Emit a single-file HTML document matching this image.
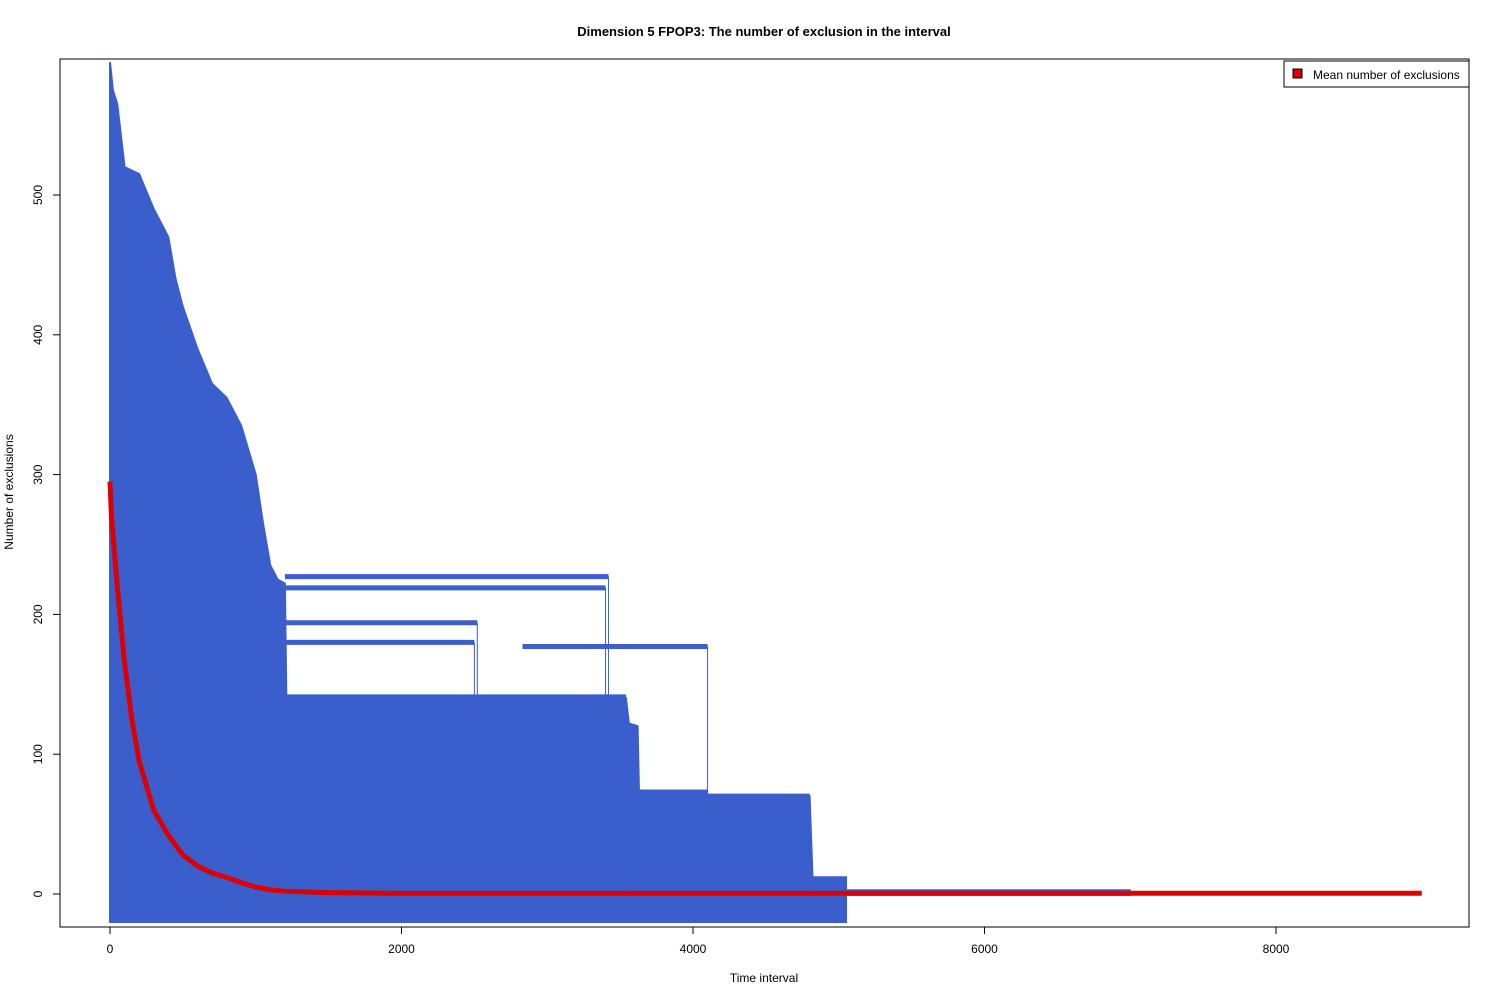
<!DOCTYPE html>
<html><head><meta charset="utf-8"><style>
body{margin:0;background:#fff}
svg{font-family:"Liberation Sans",Arial,sans-serif}
</style></head><body>
<svg id="c" width="1500" height="1000">
<rect x="0" y="0" width="1500" height="1000" fill="#fff"/>
<text x="764" y="36" text-anchor="middle" font-size="13" font-weight="bold">Dimension 5 FPOP3: The number of exclusion in the interval</text>
<g id="plot"></g>
<rect x="60" y="59" width="1409" height="868" fill="none" stroke="#000"/>
<g id="axes"></g>
<text x="764" y="982" text-anchor="middle" font-size="12">Time interval</text>
<text transform="translate(13,492) rotate(-90)" text-anchor="middle" font-size="12">Number of exclusions</text>
<g>
<rect x="1284" y="61" width="185" height="26" fill="#fff" stroke="#000"/>
<rect x="1293" y="69" width="9" height="9" fill="#dd0000" stroke="#000"/>
<text x="1313" y="79" font-size="12">Mean number of exclusions</text>
</g>
</svg>
<script>
const xTicks=[0,2000,4000,6000,8000];
const yTicks=[0,100,200,300,400,500];
const envX=[0,20,50,100,200,300,400,450,500,600,700,800,900,1000,1050,1100,1150,1200,1210,3540,3560,3620,3630,4800,4820,5050];
const envHi=[595,575,565,520,515,490,470,440,420,390,365,355,335,300,265,235,225,222,140,140,122,120,70,70,12,12];
const envLo=-20;
const tailX=[5050,7000];
const tailHi=[3,3];
const tailLo=[-1,-1];
const segStart=[1200,1200,1200,1200,2830,1200,1300,3600,3600,3600,1200,1200];
const segEnd=[3420,3400,2520,2500,4100,3540,3540,4800,4100,4800,3540,3540];
const segVal=[227,219,194,180,177,141,130,70,73,57,110,60];
const meanX=[0,10,50,100,150,200,300,400,500,600,700,800,900,1000,1100,1200,1500,2000,9000];
const meanY=[295,270,220,165,125,95,60,42,28,20,15,12,8,5,3,2,1,0.5,0.5];
const NS='http://www.w3.org/2000/svg';
const X=v=>110+v*1166/8000, Y=v=>894-v*699/500;
const plot=document.getElementById('plot'), axes=document.getElementById('axes');
function mk(t,a,p){const e=document.createElementNS(NS,t);for(const k in a)e.setAttribute(k,a[k]);(p||plot).appendChild(e);return e;}
let pts=envX.map((x,i)=>X(x)+','+Y(envHi[i]));
pts.push(X(envX[envX.length-1])+','+Y(envLo),X(0)+','+Y(envLo));
const poly=mk('polygon',{points:pts.join(' '),fill:'#3a5fcd',stroke:'#3a5fcd','stroke-width':2});


const tp=tailX.map((x,i)=>X(x)+','+Y(tailHi[i])).concat(tailX.slice().reverse().map((x,i)=>X(x)+','+Y(tailLo[tailLo.length-1-i])));
const tail=mk('polygon',{points:tp.join(' '),fill:'#3a5fcd',stroke:'#3a5fcd','stroke-width':1});


segStart.forEach((s,i)=>{
  const l=mk('line',{x1:X(s),x2:X(segEnd[i]),y1:Y(segVal[i]),y2:Y(segVal[i]),stroke:'#3a5fcd','stroke-width':5});
  
  
  const v=mk('line',{x1:X(segEnd[i]),x2:X(segEnd[i]),y1:Y(segVal[i]),y2:Y(0),stroke:'#3a5fcd','stroke-width':1});
  
  
});
const mp=mk('polyline',{points:meanX.map((x,i)=>X(x)+','+Y(meanY[i])).join(' '),fill:'none',stroke:'#dd0000','stroke-width':5,'stroke-linejoin':'round'});


xTicks.forEach(t=>{
  mk('line',{x1:X(t),x2:X(t),y1:927,y2:934,stroke:'#000'},axes);
  const tx=mk('text',{x:X(t),y:953,'text-anchor':'middle','font-size':12},axes);tx.textContent=t;
  
  
});
mk('line',{x1:X(0),x2:X(8000),y1:927,y2:927,stroke:'#000'},axes);
yTicks.forEach(t=>{
  mk('line',{x1:53,x2:60,y1:Y(t),y2:Y(t),stroke:'#000'},axes);
  const tx=mk('text',{transform:`translate(42,${Y(t)}) rotate(-90)`,'text-anchor':'middle','font-size':12},axes);tx.textContent=t;
  
  
});
</script>
</body></html>
